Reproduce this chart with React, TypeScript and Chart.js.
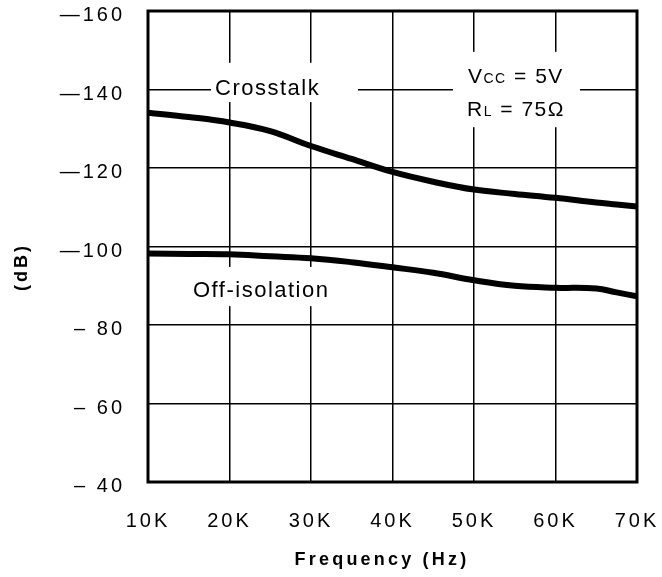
import React, { useEffect, useRef } from "react";
import { Chart, registerables } from "chart.js";

Chart.register(...registerables);

// ---- data ----
const frequencies = [10000, 15000, 20000, 25000, 30000, 35000, 40000, 45000, 50000, 55000, 60000, 65000, 67500, 70000];
const crosstalkDb = [-134.1, -133.0, -131.6, -129.4, -125.6, -122.3, -119.0, -116.5, -114.5, -113.4, -112.4, -111.2, -110.7, -110.2];
const offIsolationDb = [-98.2, -98.1, -98.0, -97.5, -97.0, -96.0, -94.7, -93.3, -91.4, -90.0, -89.5, -89.3, -88.3, -87.3];

const xTickValues = [10000, 20000, 30000, 40000, 50000, 60000, 70000];
const xTickLabels = ["10K", "20K", "30K", "40K", "50K", "60K", "70K"];
const yTickValues = [-160, -140, -120, -100, -80, -60, -40];
const yTickLabels = ["\u2014160", "\u2014140", "\u2014120", "\u2014100", "\u2013 80", "\u2013 60", "\u2013 40"];

const FONT = '"Liberation Sans", Arial, Helvetica, sans-serif';

type Part = { t: string; size: number };
type Note = { box: [number, number, number, number]; lines: { x: number; y: number; parts: Part[] }[] };

// annotation anchors in data coordinates (Hz, dB)
const notes: Note[] = [
  {
    box: [17730, -146.8, 35770, -136.8],
    lines: [{ x: 18220, y: -138.6, parts: [{ t: "Crosstalk", size: 22 }] }],
  },
  {
    box: [47420, -149.6, 63010, -130.4],
    lines: [
      { x: 49260, y: -141.7, parts: [{ t: "V", size: 21 }, { t: "CC", size: 14 }, { t: " = 5V", size: 21 }] },
      { x: 49140, y: -133.2, parts: [{ t: "R", size: 21 }, { t: "L", size: 14 }, { t: " = 75\u03A9", size: 21 }] },
    ],
  },
  {
    box: [14910, -94.8, 31720, -84.8],
    lines: [{ x: 15520, y: -87.2, parts: [{ t: "Off-isolation", size: 22 }] }],
  },
];

const decorPlugin = {
  id: "decor",
  beforeDraw(chart: any) {
    chart.ctx.letterSpacing = "3px";
  },
  beforeDatasetsDraw(chart: any) {
    const { ctx } = chart;
    const xs = chart.scales.x;
    const ys = chart.scales.y;
    ctx.save();
    for (const n of notes) {
      const x0 = xs.getPixelForValue(n.box[0]);
      const x1 = xs.getPixelForValue(n.box[2]);
      const y0 = ys.getPixelForValue(n.box[1]);
      const y1 = ys.getPixelForValue(n.box[3]);
      ctx.fillStyle = "#ffffff";
      ctx.fillRect(x0, Math.min(y0, y1), x1 - x0, Math.abs(y1 - y0));
      ctx.fillStyle = "#000000";
      ctx.textAlign = "left";
      ctx.textBaseline = "alphabetic";
      ctx.letterSpacing = "1.5px";
      for (const ln of n.lines) {
        let px = xs.getPixelForValue(ln.x);
        const py = ys.getPixelForValue(ln.y);
        for (const p of ln.parts) {
          ctx.font = `${p.size}px ${FONT}`;
          ctx.fillText(p.t, px, py);
          px += ctx.measureText(p.t).width;
        }
      }
    }
    ctx.restore();
  },
  afterDraw(chart: any) {
    const { ctx, chartArea } = chart;
    ctx.save();
    ctx.strokeStyle = "#000000";
    ctx.lineWidth = 3;
    ctx.strokeRect(chartArea.left, chartArea.top, chartArea.right - chartArea.left, chartArea.bottom - chartArea.top);

    ctx.fillStyle = "#000000";
    ctx.font = `bold 18px ${FONT}`;
    ctx.textAlign = "center";
    ctx.textBaseline = "middle";
    ctx.letterSpacing = "3.2px";
    ctx.fillText("Frequency (Hz)", chartArea.left + 234, chart.height - 17);

    ctx.translate(22, chartArea.bottom - 215);
    ctx.rotate(-Math.PI / 2);
    ctx.letterSpacing = "3px";
    ctx.fillText("(dB)", 0, 0);
    ctx.restore();
  },
};

export default function App() {
  const ref = useRef<HTMLCanvasElement | null>(null);

  useEffect(() => {
    if (!ref.current) return;
    const chart = new Chart(ref.current, {
      type: "line",
      data: {
        datasets: [
          {
            label: "Crosstalk",
            data: frequencies.map((f, i) => ({ x: f, y: crosstalkDb[i] })),
            borderColor: "#000000",
            borderWidth: 6,
            pointRadius: 0,
            tension: 0.4,
            fill: false,
          },
          {
            label: "Off-isolation",
            data: frequencies.map((f, i) => ({ x: f, y: offIsolationDb[i] })),
            borderColor: "#000000",
            borderWidth: 6,
            pointRadius: 0,
            tension: 0.4,
            fill: false,
          },
        ],
      },
      options: {
        animation: false,
        responsive: false,
        maintainAspectRatio: false,
        layout: { padding: { top: 11, right: 25, left: 0, bottom: 0 } },
        plugins: { legend: { display: false }, tooltip: { enabled: false }, title: { display: false } },
        scales: {
          x: {
            type: "linear",
            min: 10000,
            max: 70000,
            afterFit: (s: any) => {
              s.height = 95;
              s.paddingLeft = 0;
              s.paddingRight = 0;
            },
            afterBuildTicks: (s: any) => {
              s.ticks = xTickValues.map((v) => ({ value: v }));
            },
            ticks: {
              color: "#000000",
              padding: 27,
              maxRotation: 0,
              autoSkip: false,
              font: { family: FONT, size: 20 },
              callback: (v: any) => {
                const i = xTickValues.indexOf(Number(v));
                return i >= 0 ? xTickLabels[i] : "";
              },
            },
            grid: { color: "#000000", lineWidth: 1.5, drawTicks: false },
            border: { display: false },
          },
          y: {
            type: "linear",
            reverse: true,
            min: -160,
            max: -40,
            afterFit: (s: any) => {
              s.width = 148;
              s.paddingTop = 0;
              s.paddingBottom = 0;
            },
            afterBuildTicks: (s: any) => {
              s.ticks = yTickValues.map((v) => ({ value: v }));
            },
            ticks: {
              color: "#000000",
              padding: 23,
              autoSkip: false,
              font: { family: FONT, size: 20, lineHeight: "9px" },
              callback: (v: any) => {
                const i = yTickValues.indexOf(Number(v));
                return i >= 0 ? ["", yTickLabels[i]] : "";
              },
            },
            grid: { color: "#000000", lineWidth: 1.5, drawTicks: false },
            border: { display: false },
          },
        },
      },
      plugins: [decorPlugin],
    } as any);
    return () => chart.destroy();
  }, []);

  return (
    <div style={{ position: "absolute", left: 0, top: 0, width: 662, height: 577, background: "#ffffff" }}>
      <canvas ref={ref} width={662} height={577} style={{ display: "block" }} />
    </div>
  );
}
